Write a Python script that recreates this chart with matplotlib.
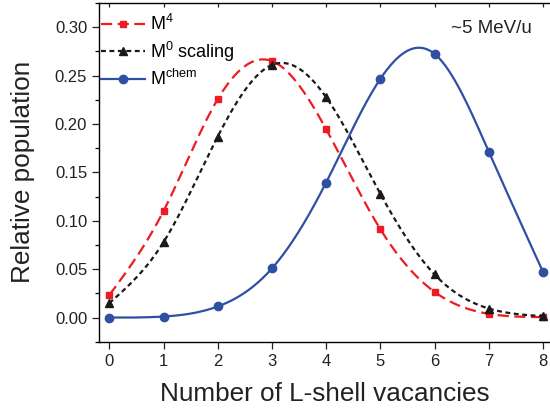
import numpy as np
import matplotlib
matplotlib.use("Agg")
import matplotlib.pyplot as plt
from matplotlib.ticker import MultipleLocator, FormatStrFormatter

plt.rcParams['font.family'] = ['Liberation Sans', 'DejaVu Sans']
plt.rcParams['mathtext.default'] = 'regular'

vacancies = [0, 1, 2, 3, 4, 5, 6, 7, 8]
m4 = [0.0231, 0.110, 0.2256, 0.265, 0.1946, 0.0913, 0.0265, 0.0038, 0.0004]
m0_scaling = [0.0148, 0.0778, 0.187, 0.261, 0.2276, 0.1278, 0.0445, 0.0093, 0.0014]
m_chem = [0.0, 0.001, 0.0114, 0.0507, 0.1395, 0.2466, 0.2724, 0.1715, 0.0472]


def natural_spline(x, y, n=400):
    """Natural cubic spline through (x, y), sampled on n points."""
    x = np.asarray(x, float)
    y = np.asarray(y, float)
    h = np.diff(x)
    m = len(x)
    A = np.zeros((m, m))
    b = np.zeros(m)
    A[0, 0] = A[-1, -1] = 1.0
    for i in range(1, m - 1):
        A[i, i - 1] = h[i - 1]
        A[i, i] = 2 * (h[i - 1] + h[i])
        A[i, i + 1] = h[i]
        b[i] = 6 * ((y[i + 1] - y[i]) / h[i] - (y[i] - y[i - 1]) / h[i - 1])
    M = np.linalg.solve(A, b)
    xs = np.linspace(x[0], x[-1], n)
    k = np.clip(np.searchsorted(x, xs) - 1, 0, m - 2)
    t0 = x[k + 1] - xs
    t1 = xs - x[k]
    hk = h[k]
    ys = (M[k] * t0 ** 3 / (6 * hk) + M[k + 1] * t1 ** 3 / (6 * hk)
          + (y[k] / hk - M[k] * hk / 6) * t0
          + (y[k + 1] / hk - M[k + 1] * hk / 6) * t1)
    return xs, ys


red = '#ED1C24'
black = '#1A1A1A'
blue = '#2F4FA2'
text_col = '#222222'

fig = plt.figure(figsize=(5.5, 4.12), dpi=100)
ax = fig.add_axes([99 / 550, 1 - 341.7 / 412, 451 / 550, (341.7 - 3) / 412])

series = [
    (m4, red, (0, (5, 2.5)), 's', 5.0, 'M$^4$'),
    (m0_scaling, black, (0, (2.2, 1.6)), '^', 6.0, 'M$^0$ scaling'),
    (m_chem, blue, '-', 'o', 6.0, 'M$^{chem}$'),
]
for vals, col, ls, mk, ms, lab in series:
    xs, ys = natural_spline(vacancies, vals)
    ax.plot(xs, ys, color=col, ls=ls, lw=1.6)
    ax.plot(vacancies, vals, ls='none', marker=mk, ms=ms, color=col, mec=col)
    # legend proxy with line + marker
    ax.plot([], [], color=col, ls=ls, lw=1.6, marker=mk, ms=ms, label=lab)

ax.set_xlim(-0.19, 8.13)
ax.set_ylim(-0.025, 0.325)
ax.xaxis.set_major_locator(MultipleLocator(1))
ax.yaxis.set_major_locator(MultipleLocator(0.05))
ax.yaxis.set_minor_locator(MultipleLocator(0.025))
ax.yaxis.set_major_formatter(FormatStrFormatter('%.2f'))
ax.tick_params(axis='both', which='major', direction='out', length=5, width=0.9,
               labelsize=12, colors=text_col)
ax.tick_params(axis='y', which='minor', direction='out', length=3, width=0.9)
ax.tick_params(top=True, which='major', axis='x')
for s in ('left', 'bottom', 'top'):
    ax.spines[s].set_linewidth(1.0)
ax.spines['right'].set_visible(False)
# top ticks point inward
for t in ax.xaxis.get_major_ticks():
    t.tick2line.set_markersize(3)
    t.tick2line.set_marker(3)  # TICKDOWN

ax.set_xlabel('Number of L-shell vacancies', fontsize=18.8, color=text_col, labelpad=10)
ax.set_ylabel('Relative population', fontsize=18.8, color=text_col, labelpad=14)

ax.text(0.96, 0.926, '~5 MeV/u', transform=ax.transAxes, ha='right', va='center',
        fontsize=13.5, color=text_col)

leg = ax.legend(loc='upper left', bbox_to_anchor=(0.004, 0.967), frameon=False,
                fontsize=13, handlelength=2.45, handletextpad=0.28,
                labelspacing=0.3, borderaxespad=0.0, borderpad=0.0)

fig.savefig('out.png', dpi=100)
